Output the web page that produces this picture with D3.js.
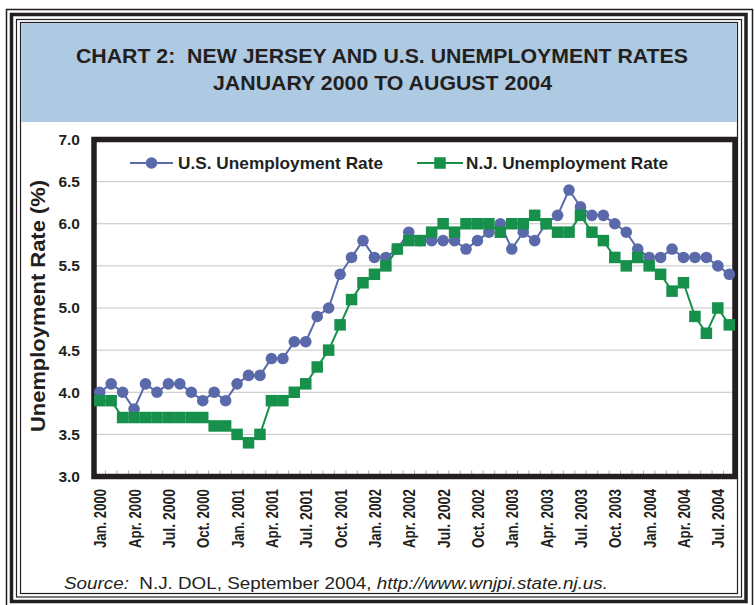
<!DOCTYPE html>
<html>
<head>
<meta charset="utf-8">
<script src="https://cdn.jsdelivr.net/npm/d3@7"></script>
<style>
    body { margin: 0; background: #fff; }
    svg { display: block; }
    text { font-family: "Liberation Sans", Arial, sans-serif; fill: #231f20; }
</style>
</head>
<body>
<script>
// month categories, Jan 2000 .. Aug 2004
const monthNames = ['Jan.', 'Feb.', 'Mar.', 'Apr.', 'May', 'Jun.', 'Jul.', 'Aug.', 'Sep.', 'Oct.', 'Nov.', 'Dec.'];
const years = [2000, 2001, 2002, 2003, 2004];
const categories = years.flatMap(yr => monthNames.map(m => m + ' ' + yr)).slice(0, 56);

const usRate = [
    4.0, 4.1, 4.0, 3.8, 4.1, 4.0, 4.1, 4.1, 4.0, 3.9, 4.0, 3.9,
    4.1, 4.2, 4.2, 4.4, 4.4, 4.6, 4.6, 4.9, 5.0, 5.4, 5.6, 5.8,
    5.6, 5.6, 5.7, 5.9, 5.8, 5.8, 5.8, 5.8, 5.7, 5.8, 5.9, 6.0,
    5.7, 5.9, 5.8, 6.0, 6.1, 6.4, 6.2, 6.1, 6.1, 6.0, 5.9, 5.7,
    5.6, 5.6, 5.7, 5.6, 5.6, 5.6, 5.5, 5.4
];
const njRate = [
    3.9, 3.9, 3.7, 3.7, 3.7, 3.7, 3.7, 3.7, 3.7, 3.7, 3.6, 3.6,
    3.5, 3.4, 3.5, 3.9, 3.9, 4.0, 4.1, 4.3, 4.5, 4.8, 5.1, 5.3,
    5.4, 5.5, 5.7, 5.8, 5.8, 5.9, 6.0, 5.9, 6.0, 6.0, 6.0, 5.9,
    6.0, 6.0, 6.1, 6.0, 5.9, 5.9, 6.1, 5.9, 5.8, 5.6, 5.5, 5.6,
    5.5, 5.4, 5.2, 5.3, 4.9, 4.7, 5.0, 4.8
];

const yTicks = [3.0, 3.5, 4.0, 4.5, 5.0, 5.5, 6.0, 6.5, 7.0];
const xTickLabels = [
    'Jan. 2000', 'Apr. 2000', 'Jul. 2000', 'Oct. 2000',
    'Jan. 2001', 'Apr. 2001', 'Jul. 2001', 'Oct. 2001',
    'Jan. 2002', 'Apr. 2002', 'Jul. 2002', 'Oct. 2002',
    'Jan. 2003', 'Apr. 2003', 'Jul. 2003', 'Oct. 2003',
    'Jan. 2004', 'Apr. 2004', 'Jul. 2004'
];

const seriesNames = ['U.S. Unemployment Rate', 'N.J. Unemployment Rate'];

let W = 755, H = 605;
let blue = '#5a69a9', green = '#16904a', ink = '#231f20';

let svg = d3.select('body').append('svg')
    .attr('width', W)
    .attr('height', H);

// nested frame lines
let frames = [
    { x0: 6.5, y0: 9.5, x1: 752.5, y1: 607, w: 1.5 },
    { x0: 11.5, y0: 14.5, x1: 746, y1: 601.5, w: 3.5 },
    { x0: 16.5, y0: 19.5, x1: 741.5, y1: 597, w: 1.2 },
    { x0: 20.5, y0: 22.5, x1: 737.5, y1: 593.5, w: 1.2 }
];
svg.append('g').selectAll('rect').data(frames).enter().append('rect')
    .attr('x', d => d.x0)
    .attr('y', d => d.y0)
    .attr('width', d => d.x1 - d.x0)
    .attr('height', d => d.y1 - d.y0)
    .attr('fill', 'none')
    .attr('stroke', ink)
    .attr('stroke-width', d => d.w);

// header band
svg.append('rect')
    .attr('x', 21.2).attr('y', 23.2)
    .attr('width', 715.6).attr('height', 98.8)
    .attr('fill', '#aec9e2');

let title = svg.append('g')
    .style('font-family', '"Liberation Sans Narrow", "Liberation Sans", Arial, sans-serif')
    .style('font-weight', 'bold')
    .style('font-size', '20.5px');
title.append('text')
    .attr('x', 76).attr('y', 63)
    .attr('textLength', 612).attr('lengthAdjust', 'spacingAndGlyphs')
    .style('white-space', 'pre')
    .text('CHART 2:  NEW JERSEY AND U.S. UNEMPLOYMENT RATES');
title.append('text')
    .attr('x', 213).attr('y', 90)
    .attr('textLength', 339).attr('lengthAdjust', 'spacingAndGlyphs')
    .text('JANUARY 2000 TO AUGUST 2004');

// plot area
let plot = { left: 94, right: 735, top: 139.5, bottom: 476.5 };

let x = d3.scalePoint()
    .domain(categories)
    .range([plot.left, plot.right])
    .padding(0.5);

let y = d3.scaleLinear()
    .domain([3, 7])
    .range([plot.bottom, plot.top]);

svg.append('rect')
    .attr('x', plot.left).attr('y', plot.top)
    .attr('width', plot.right - plot.left)
    .attr('height', plot.bottom - plot.top)
    .attr('fill', '#fff');

// gridlines
svg.append('g').selectAll('line').data(yTicks.slice(1, -1)).enter().append('line')
    .attr('x1', plot.left).attr('x2', plot.right)
    .attr('y1', d => y(d)).attr('y2', d => y(d))
    .attr('stroke', '#c4c4c4')
    .attr('stroke-width', 1);

// small category ticks along the bottom
let step = x.step();
svg.append('g').selectAll('line').data(categories.slice(1)).enter().append('line')
    .attr('x1', d => x(d) - step / 2).attr('x2', d => x(d) - step / 2)
    .attr('y1', plot.bottom - 2.5).attr('y2', plot.bottom - 6)
    .attr('stroke', '#a8a8a8')
    .attr('stroke-width', 1);

// plot border
svg.append('rect')
    .attr('x', plot.left).attr('y', plot.top)
    .attr('width', plot.right - plot.left)
    .attr('height', plot.bottom - plot.top)
    .attr('fill', 'none')
    .attr('stroke', ink)
    .attr('stroke-width', 5.5);

// y axis
let yAxis = svg.append('g')
    .attr('transform', `translate(${plot.left},0)`)
    .call(d3.axisLeft(y).tickValues(yTicks).tickFormat(d3.format('.1f')).tickSize(0).tickPadding(14));
yAxis.select('.domain').remove();
yAxis.selectAll('text')
    .style('font-size', '15.5px')
    .style('font-weight', 'bold')
    .attr('fill', ink);

svg.append('text')
    .attr('transform', 'translate(45,306) rotate(-90)')
    .attr('text-anchor', 'middle')
    .attr('textLength', 252).attr('lengthAdjust', 'spacingAndGlyphs')
    .style('font-size', '19.5px')
    .style('font-weight', 'bold')
    .text('Unemployment Rate (%)');

// x axis
let tickCats = categories.filter(c => xTickLabels.includes(c));
let xAxis = svg.append('g')
    .attr('transform', `translate(0,${plot.bottom})`)
    .attr('font-size', null)
    .call(d3.axisBottom(x).tickValues(tickCats).tickSize(0));
xAxis.select('.domain').remove();
xAxis.selectAll('text')
    .attr('transform', 'rotate(-90)')
    .attr('x', -12.5)
    .attr('y', 0)
    .attr('dy', '0.36em')
    .attr('text-anchor', 'end')
    .attr('textLength', 59)
    .attr('lengthAdjust', 'spacingAndGlyphs')
    .attr('fill', ink)
    .style('font-size', '16.5px')
    .style('font-weight', 'bold');

// series lines and markers
let line = d3.line()
    .x((d, i) => x(categories[i]))
    .y(d => y(d));

svg.append('path')
    .datum(usRate)
    .attr('d', line)
    .attr('fill', 'none')
    .attr('stroke', blue)
    .attr('stroke-width', 2);
svg.append('g').selectAll('circle').data(usRate).enter().append('circle')
    .attr('cx', (d, i) => x(categories[i]))
    .attr('cy', d => y(d))
    .attr('r', 5.8)
    .attr('fill', blue);

let sq = 11.5;
svg.append('path')
    .datum(njRate)
    .attr('d', line)
    .attr('fill', 'none')
    .attr('stroke', green)
    .attr('stroke-width', 2);
svg.append('g').selectAll('rect').data(njRate).enter().append('rect')
    .attr('x', (d, i) => x(categories[i]) - sq / 2)
    .attr('y', d => y(d) - sq / 2)
    .attr('width', sq)
    .attr('height', sq)
    .attr('fill', green);

// legend
let legY = 163;
let leg = svg.append('g');
leg.append('line')
    .attr('x1', 130).attr('x2', 173).attr('y1', legY).attr('y2', legY)
    .attr('stroke', blue).attr('stroke-width', 2);
leg.append('circle')
    .attr('cx', 151.5).attr('cy', legY).attr('r', 5.8)
    .attr('fill', blue);
leg.append('line')
    .attr('x1', 417).attr('x2', 463).attr('y1', legY).attr('y2', legY)
    .attr('stroke', green).attr('stroke-width', 2);
leg.append('rect')
    .attr('x', 440 - sq / 2).attr('y', legY - sq / 2)
    .attr('width', sq).attr('height', sq)
    .attr('fill', green);
leg.selectAll('text').data(seriesNames).enter().append('text')
    .attr('x', (d, i) => i === 0 ? 178 : 466)
    .attr('y', legY)
    .attr('dy', '0.36em')
    .attr('textLength', (d, i) => i === 0 ? 205 : 202)
    .attr('lengthAdjust', 'spacingAndGlyphs')
    .style('font-size', '17px')
    .style('font-weight', 'bold')
    .text(d => d);

// source note
let src = svg.append('text')
    .attr('x', 64).attr('y', 589)
    .attr('textLength', 544).attr('lengthAdjust', 'spacingAndGlyphs')
    .style('font-size', '16.5px')
    .style('white-space', 'pre');
src.append('tspan').style('font-style', 'italic').text('Source:');
src.append('tspan').text('  N.J. DOL, September 2004, ');
src.append('tspan').style('font-style', 'italic').text('http://www.wnjpi.state.nj.us.');
</script>
</body>
</html>
